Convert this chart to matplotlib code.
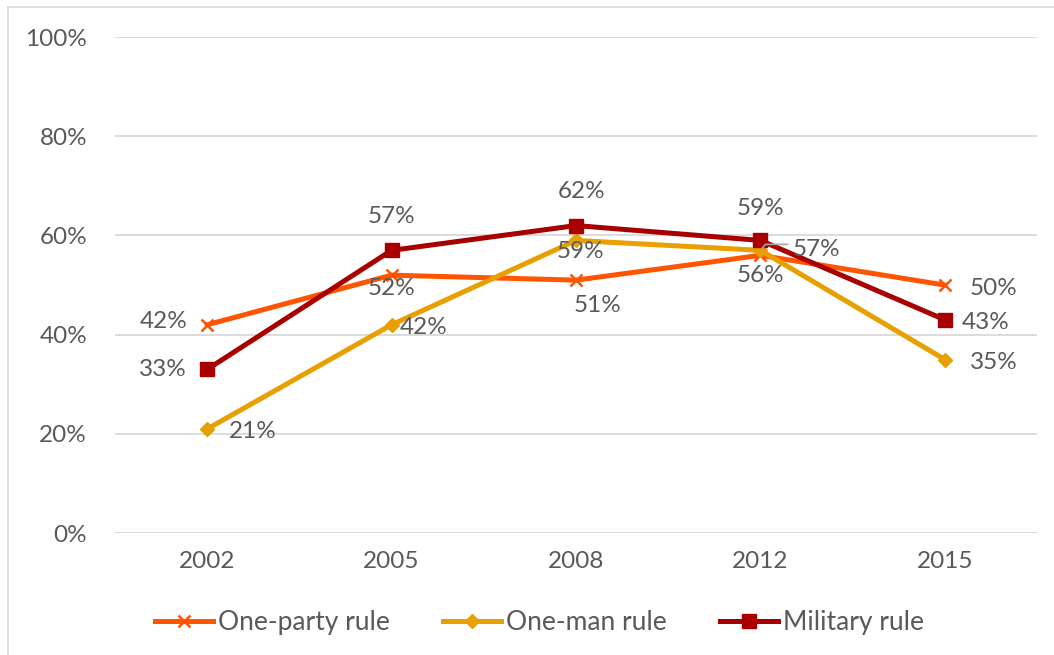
import matplotlib
matplotlib.use("Agg")
import matplotlib.pyplot as plt
from matplotlib.lines import Line2D

years = ["2002", "2005", "2008", "2012", "2015"]
one_party = [42, 52, 51, 56, 50]
one_man = [21, 42, 59, 57, 35]
military = [33, 57, 62, 59, 43]
yticks = [0, 20, 40, 60, 80, 100]

# label offsets in pixels (dx, dy, ha, va)
op_off = [(-20, 3, "right", "center"), (0, -13, "center", "center"), (22, -25, "center", "center"), (0, -20, "center", "center"), (25, -3, "left", "center")]
om_off = [(22, -3, "left", "center"), (32, -3, "center", "center"), (4, -11, "center", "center"), (32, 1, "left", "center"), (25, -3, "left", "center")]
mi_off = [(-20, 0, "right", "center"), (0, 34, "center", "center"), (6, 34, "center", "center"), (0, 32, "center", "center"), (17, -3, "left", "center")]

c_op = "#FF5500"
c_om = "#E8A000"
c_mi = "#A80000"
tc = "#595959"
fs = 17.5

plt.rcParams['font.family'] = ['Lato', 'DejaVu Sans']

fig = plt.figure(figsize=(10.54, 6.55), dpi=100)
ax = fig.add_axes([0.109, 0.186, 0.875, 0.7575])
x = list(range(len(years)))

ax.plot(x, one_party, color=c_op, lw=3.6, marker="x", ms=9, mew=1.8, zorder=3)
ax.plot(x, one_man, color=c_om, lw=3.6, marker="D", ms=7, zorder=3)
ax.plot(x, military, color=c_mi, lw=3.6, marker="s", ms=10, zorder=4)

for vals, offs in ((one_party, op_off), (one_man, om_off), (military, mi_off)):
    for i, (v, o) in enumerate(zip(vals, offs)):
        ax.annotate(f"{v}%", (i, v), xytext=(o[0], o[1]), textcoords="offset pixels",
                    ha=o[2], va=o[3], fontsize=fs, color=tc, zorder=5)

# leader line for the 2012 one-man label
ax.annotate("", (3, one_man[3]), xytext=(30, 6), textcoords="offset pixels",
            arrowprops=dict(arrowstyle="-", color="#A6A6A6", lw=1.2,
                            connectionstyle="angle,angleA=0,angleB=50,rad=0"),
            zorder=5)

ax.set_xlim(-0.5, len(years) - 0.5)
ax.set_ylim(0, 100)
ax.set_yticks(yticks)
ax.set_yticklabels([f"{t}%" for t in yticks])
ax.set_xticks(x)
ax.set_xticklabels(years)
ax.tick_params(axis="both", length=0, labelsize=fs, colors=tc)
ax.tick_params(axis="y", pad=20)
ax.tick_params(axis="x", pad=13)
ax.grid(axis="y", color="#D9D9D9", lw=1.3)
ax.set_axisbelow(True)
for s in ax.spines.values():
    s.set_visible(False)

handles = [Line2D([], [], color=c_op, lw=3.6, marker="x", ms=9, mew=1.8),
           Line2D([], [], color=c_om, lw=3.6, marker="D", ms=7),
           Line2D([], [], color=c_mi, lw=3.6, marker="s", ms=10)]
fig.legend(handles, ["One-party rule", "One-man rule", "Military rule"],
           loc="center", bbox_to_anchor=(0.512, 0.05), ncol=3, frameon=False,
           fontsize=19, labelcolor=tc, handlelength=2.2, handletextpad=0.2,
           columnspacing=2.0)

# outer chart border
fig.add_artist(Line2D([8/1054, 8/1054], [0, 1 - 7/655], color="#D9D9D9", lw=1.2, transform=fig.transFigure))
fig.add_artist(Line2D([8/1054, 1], [1 - 7/655, 1 - 7/655], color="#D9D9D9", lw=1.2, transform=fig.transFigure))

fig.savefig("out.png", dpi=100)
